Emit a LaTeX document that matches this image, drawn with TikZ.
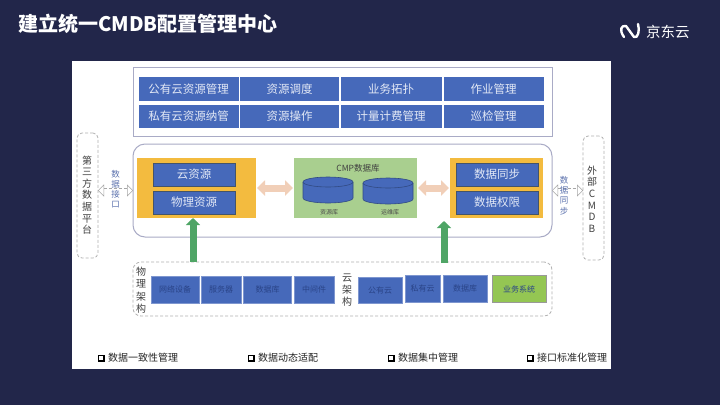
\documentclass[tikz,border=0pt]{standalone}
\usepackage{fontspec}
\setmainfont{Noto Sans CJK SC}
\usepackage{tikz}
\usetikzlibrary{shapes, positioning, arrows.meta}

\definecolor{slidebg}{HTML}{22264A}
\definecolor{cellblue}{HTML}{4669BA}
\definecolor{celltext}{HTML}{E3E9F6}
\definecolor{darktext}{HTML}{2A4488}
\definecolor{framegray}{HTML}{A9ABC6}
\definecolor{panelyellow}{HTML}{F3BB3F}
\definecolor{innerline}{HTML}{44546A}
\definecolor{panelgreen}{HTML}{A9CF8F}
\definecolor{lightgreen}{HTML}{94C653}
\definecolor{peach}{HTML}{F1CFB8}
\definecolor{arrowgreen}{HTML}{4FA566}
\definecolor{labelblue}{HTML}{5C72AE}

\tikzset{
    box/.style={rectangle, inner sep=0pt, outer sep=0pt},
    cell/.style={box, fill=cellblue, text=celltext, font=\fontsize{11.5}{12}\selectfont, minimum height=23.5pt},
    resitem/.style={cell, draw=innerline, line width=1pt, minimum width=82pt, minimum height=23pt},
    archcell/.style={box, fill=cellblue, draw=cellblue!70!white, text=darktext, font=\fontsize{8}{9}\selectfont},
    frame/.style={box, draw=gray!60, densely dashed, line width=0.8pt, rounded corners=5pt},
    vtext/.style={align=center, inner sep=0pt, text=black!75, font=\fontsize{10}{11.6}\selectfont},
    linktext/.style={align=center, inner sep=0pt, text=labelblue, font=\fontsize{8.5}{10.2}\selectfont},
    dbtext/.style={inner sep=0pt, text=black!70, font=\fontsize{6}{7}\selectfont},
    tick/.style={box, draw=black, line width=1.5pt, fill=white, minimum size=5.5pt},
    point/.style={inner sep=0pt, text=black!85, font=\fontsize{10}{11}\selectfont},
    linkarrow/.style={{Triangle[open, length=6pt, width=12pt, fill=white]}-{Triangle[open, length=6pt, width=12pt, fill=white]}, gray!70, densely dashed, line width=0.5pt, double=white, double distance=4pt},
    swaparrow/.style={{Triangle[length=8pt, width=15pt]}-{Triangle[length=8pt, width=15pt]}, peach, line width=7pt, shorten >=1pt, shorten <=1pt},
    uparrow/.style={-{Triangle[length=7pt, width=14pt]}, arrowgreen, line width=7pt},
    dbshape/.pic={
        \draw[fill=cellblue, draw=cellblue!70!black, line width=0.6pt] (-25pt,8pt) arc[x radius=25pt, y radius=5pt, start angle=180, end angle=0] -- (25pt,-8pt) arc[x radius=25pt, y radius=5pt, start angle=0, end angle=-180] -- cycle;
        \draw[draw=cellblue!70!black, line width=0.6pt] (-25pt,8pt) arc[x radius=25pt, y radius=5pt, start angle=180, end angle=360];
    }
}

\begin{document}
\begin{tikzpicture}[x=1pt, y=-1pt]
    \useasboundingbox (0,0) rectangle (720,405);
    \fill[slidebg] (0,0) rectangle (720,405);
    \fill[white] (72,61) rectangle (611,369);

    % title and logo
    \node[anchor=west, inner sep=0pt, text=white, font=\fontsize{20}{22}\selectfont\bfseries] (title) at (18,24) {建立统一CMDB配置管理中心};
    \node[anchor=west, inner sep=0pt, text=white, font=\fontsize{14.5}{16}\selectfont] (brand) at (646,32) {京东云};
    \draw[white, line width=2.4pt, line join=round, line cap=round] (624,37) .. controls (619,30) and (621,25) .. (626,26) -- (634,37) .. controls (638,39) and (640,30) .. (638,24);

    % top function area
    \node[box, draw=framegray, line width=1pt, minimum width=419pt, minimum height=69pt] (topbox) at (342.5,101.5) {};
    \node[cell, minimum width=100pt] (pubmanage) at (188.5,89) {公有云资源管理};
    \node[cell, minimum width=99pt, right=1.5pt of pubmanage] (schedule) {资源调度};
    \node[cell, minimum width=101pt, right=1.5pt of schedule] (topology) {业务拓扑};
    \node[cell, minimum width=100pt, right=2pt of topology] (jobs) {作业管理};
    \node[cell, minimum width=100pt, below=4pt of pubmanage] (privmanage) {私有云资源纳管};
    \node[cell, minimum width=99pt, right=1.5pt of privmanage] (operate) {资源操作};
    \node[cell, minimum width=101pt, right=1.5pt of operate] (billing) {计量计费管理};
    \node[cell, minimum width=100pt, right=2pt of billing] (inspect) {巡检管理};

    % middle area
    \node[box, draw=framegray, line width=1pt, rounded corners=12pt, minimum width=419pt, minimum height=93pt] (corebox) at (342.5,190.5) {};
    \node[box, fill=panelyellow, minimum width=119pt, minimum height=60pt] (resleft) at (196.5,188) {};
    \node[resitem] (cloudres) at (194,174.5) {云资源};
    \node[resitem, below=5pt of cloudres] (physres) {物理资源};
    \node[box, fill=panelgreen, minimum width=123pt, minimum height=60pt] (cmp) at (355.5,188) {};
    \node[inner sep=0pt, text=black!75, font=\fontsize{8.5}{10}\selectfont] (cmptitle) at (358,168) {CMP数据库};
    \pic (resdb) at (328,190) {dbshape};
    \pic (opsdb) at (388,191) {dbshape};
    \node[dbtext] (resdbtext) at (329,212) {资源库};
    \node[dbtext] (opsdbtext) at (390,212) {运维库};
    \node[box, fill=panelyellow, minimum width=93pt, minimum height=60pt] (resright) at (496.5,188) {};
    \node[resitem] (syncitem) at (497,174.5) {数据同步};
    \node[resitem, below=5pt of syncitem] (permitem) {数据权限};
    \draw[swaparrow] (resleft) -- (cmp);
    \draw[swaparrow] (cmp) -- (resright);

    % side systems
    \node[frame, minimum width=21pt, minimum height=125pt] (thirdparty) at (87.5,195.5) {};
    \node[vtext] (thirdtext) at (87,195) {第\\三\\方\\数\\据\\平\\台};
    \node[frame, minimum width=21pt, minimum height=124pt] (external) at (593.5,198) {};
    \node[vtext] (exttext) at (592,199) {外\\部\\C\\M\\D\\B};
    \draw[linkarrow] (thirdparty.east |- corebox.west) -- (corebox.west);
    \draw[linkarrow] (corebox.east) -- (external.west |- corebox.east);
    \node[linktext] (linkleft) at (115.5,189) {数\\据\\接\\口};
    \node[linktext] (linkright) at (564,195.5) {数\\据\\同\\步};

    % bottom architecture area
    \node[frame, minimum width=419pt, minimum height=54pt, rounded corners=8pt] (archbox) at (342.5,289) {};
    \node[vtext, font=\fontsize{10}{12.4}\selectfont] (physarch) at (141,290) {物\\理\\架\\构};
    \node[archcell, minimum width=48pt, minimum height=27pt] (netdev) at (175,289.5) {网络设备};
    \node[archcell, minimum width=40pt, minimum height=27pt, right=2pt of netdev] (server) {服务器};
    \node[archcell, minimum width=48pt, minimum height=27pt, right=2.5pt of server] (physdb) {数据库};
    \node[archcell, minimum width=40pt, minimum height=27pt, right=2.5pt of physdb] (midware) {中间件};
    \node[vtext, font=\fontsize{10}{12.4}\selectfont] (cloudarch) at (347,290) {云\\架\\构};
    \node[archcell, minimum width=44.5pt, minimum height=26pt] (pubcloud) at (380,290) {公有云};
    \node[archcell, minimum width=35pt, minimum height=26.5pt] (privcloud) at (422.5,288.7) {私有云};
    \node[archcell, minimum width=43.5pt, minimum height=26.5pt] (clouddb) at (465.2,288.7) {数据库};
    \node[box, fill=lightgreen, draw=gray!80, text=darktext, font=\fontsize{8}{9}\selectfont, minimum width=54.5pt, minimum height=27pt] (bizsys) at (519.2,289) {业务系统};
    \coordinate (physup) at (193,262);
    \coordinate (cloudup) at (444,263);
    \draw[uparrow] (physup) -- (resleft.south -| physup);
    \draw[uparrow, shorten >=3pt] (cloudup) -- (resright.south -| cloudup);

    % bottom points
    \node[point, anchor=west] (consist) at (108,358) {数据一致性管理};
    \node[tick, left=4pt of consist] (tickconsist) {};
    \node[point, anchor=west] (adapt) at (258,358) {数据动态适配};
    \node[tick, left=4pt of adapt] (tickadapt) {};
    \node[point, anchor=west] (central) at (398,358) {数据集中管理};
    \node[tick, left=4pt of central] (tickcentral) {};
    \node[point, anchor=west] (standard) at (537,358) {接口标准化管理};
    \node[tick, left=4pt of standard] (tickstandard) {};
\end{tikzpicture}
\end{document}
